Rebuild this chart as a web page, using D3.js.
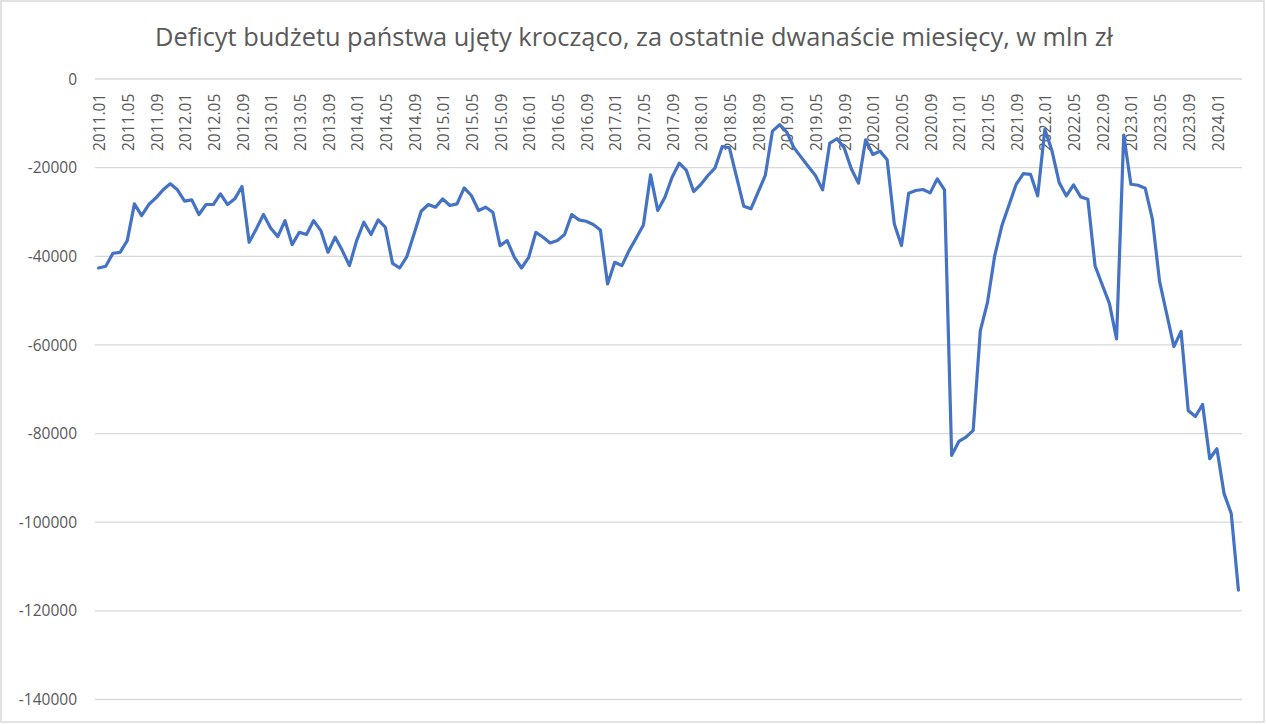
<!DOCTYPE html>
<html>
<head>
<meta charset="utf-8">
<script src="https://cdn.jsdelivr.net/npm/d3@7"></script>
<style>
  body { margin: 0; background: #fff; }
  text { font-family: "Open Sans", "Segoe UI", sans-serif; fill: #595959; }
</style>
</head>
<body>
<div id="main"></div>
<script>
// chart title
const title = 'Deficyt budżetu państwa ujęty krocząco, za ostatnie dwanaście miesięcy, w mln zł';

// categories: months from 2011.01 to 2024.04
const years = [2011, 2012, 2013, 2014, 2015, 2016, 2017, 2018, 2019, 2020, 2021, 2022, 2023, 2024];
const monthNames = ['01', '02', '03', '04', '05', '06', '07', '08', '09', '10', '11', '12'];
const lastMonthIn2024 = 4;

// rolling 12-month deficit, mln zł
const deficit = [
    -42640, -42260, -39320, -39100, -36460, -28170, -30810, -28320, -26820, -25010, -23650, -25010, // 2011
    -27570, -27270, -30580, -28320, -28320, -25910, -28320, -27040, -24260, -36840, -33820, -30580, // 2012
    -33600, -35560, -31940, -37360, -34580, -35100, -31940, -34200, -39100, -35700, -38720, -42110, // 2013
    -36460, -32320, -35100, -31790, -33450, -41580, -42640, -40080, -34950, -29830, -28320, -28930, // 2014
    -27040, -28550, -28170, -24560, -26290, -29680, -28930, -30060, -37590, -36460, -40230, -42640, // 2015
    -40230, -34580, -35700, -36990, -36460, -35100, -30580, -31790, -32090, -32840, -34050, -46250, // 2016
    -41360, -42110, -38720, -35860, -32920, -21620, -29680, -26670, -22150, -18980, -20640, -25390, // 2017
    -23800, -21770, -20040, -15220, -15520, -22150, -28700, -29300, -25540, -21770, -11750, -10320, // 2018
    -11980, -15520, -17630, -19740, -21770, -25010, -14460, -13480, -15520, -20260, -23500, -13710, // 2019
    -17020, -16270, -18230, -32690, -37590, -25760, -25160, -24930, -25690, -22520, -25010, -84920, // 2020
    -81770, -80790, -79290, -56770, -50400, -39890, -33130, -28410, -23750, -21350, -21500, -26380, // 2021
    -11370, -16250, -23380, -26380, -23900, -26600, -27130, -42140, -46420, -50620, -58650, -12650, // 2022
    -23750, -23980, -24650, -31630, -45670, -53020, -60380, -56930, -74790, -76140, -73440, -85670, // 2023
    -83420, -93550, -98050, -115310                                                                  // 2024
];

// y axis ticks
const yTicks = [0, -20000, -40000, -60000, -80000, -100000, -120000, -140000];

const months = [];
years.forEach(y => monthNames.forEach((m, j) => {
    if (y < 2024 || j < lastMonthIn2024) months.push(y + '.' + m);
}));
const data = months.map((m, i) => ({ month: m, value: deficit[i] }));

const width = 1266, height = 724;
const plot = { left: 95, right: 1242, top: 79, bottom: 699.5 };

let svg = d3.select('#main')
    .append('svg')
        .attr('width', width)
        .attr('height', height);

// outer chart border
svg.append('rect')
    .attr('x', 1).attr('y', 1)
    .attr('width', 1263).attr('height', 721)
    .attr('fill', '#fff')
    .attr('stroke', '#d9d9d9')
    .attr('stroke-width', 1.5);

const x = d3.scaleBand().domain(months).range([plot.left, plot.right]);
const xc = d => x(d) + x.bandwidth() / 2;
const y = d3.scaleLinear().domain([-140000, 0]).range([plot.bottom, plot.top]);

// gridlines
svg.append('g')
    .selectAll('line')
    .data(yTicks)
    .enter()
    .append('line')
        .attr('x1', plot.left)
        .attr('x2', plot.right)
        .attr('y1', d => y(d))
        .attr('y2', d => y(d))
        .attr('stroke', '#d9d9d9')
        .attr('stroke-width', 1.3);

// y axis labels
svg.append('g')
    .selectAll('text')
    .data(yTicks)
    .enter()
    .append('text')
        .attr('x', 77)
        .attr('y', d => y(d))
        .attr('dy', '0.36em')
        .attr('text-anchor', 'end')
        .style('font-size', '15.5px')
        .text(d => d);

// x axis labels every 4 months, rotated, just under the zero line
svg.append('g')
    .selectAll('text')
    .data(months.filter((m, i) => i % 4 === 0))
    .enter()
    .append('text')
        .attr('transform', d => `translate(${xc(d) + 1},151) rotate(-90)`)
        .attr('dy', '0.36em')
        .attr('text-anchor', 'start')
        .style('font-size', '15.5px')
        .text(d => d);

// the series line
const line = d3.line()
    .x(d => xc(d.month))
    .y(d => y(d.value));

svg.append('path')
    .datum(data)
    .attr('d', line)
    .attr('fill', 'none')
    .attr('stroke', '#4472c4')
    .attr('stroke-width', 3.2)
    .attr('stroke-linejoin', 'round')
    .attr('stroke-linecap', 'round');

// title, scaled to the width seen in the reference
let t = svg.append('text')
    .attr('x', 634)
    .attr('y', 46)
    .attr('text-anchor', 'middle')
    .style('font-size', '23px')
    .text(title);
const w = t.node().getComputedTextLength();
t.style('font-size', (23 * 958 / w).toFixed(2) + 'px');
</script>
</body>
</html>
